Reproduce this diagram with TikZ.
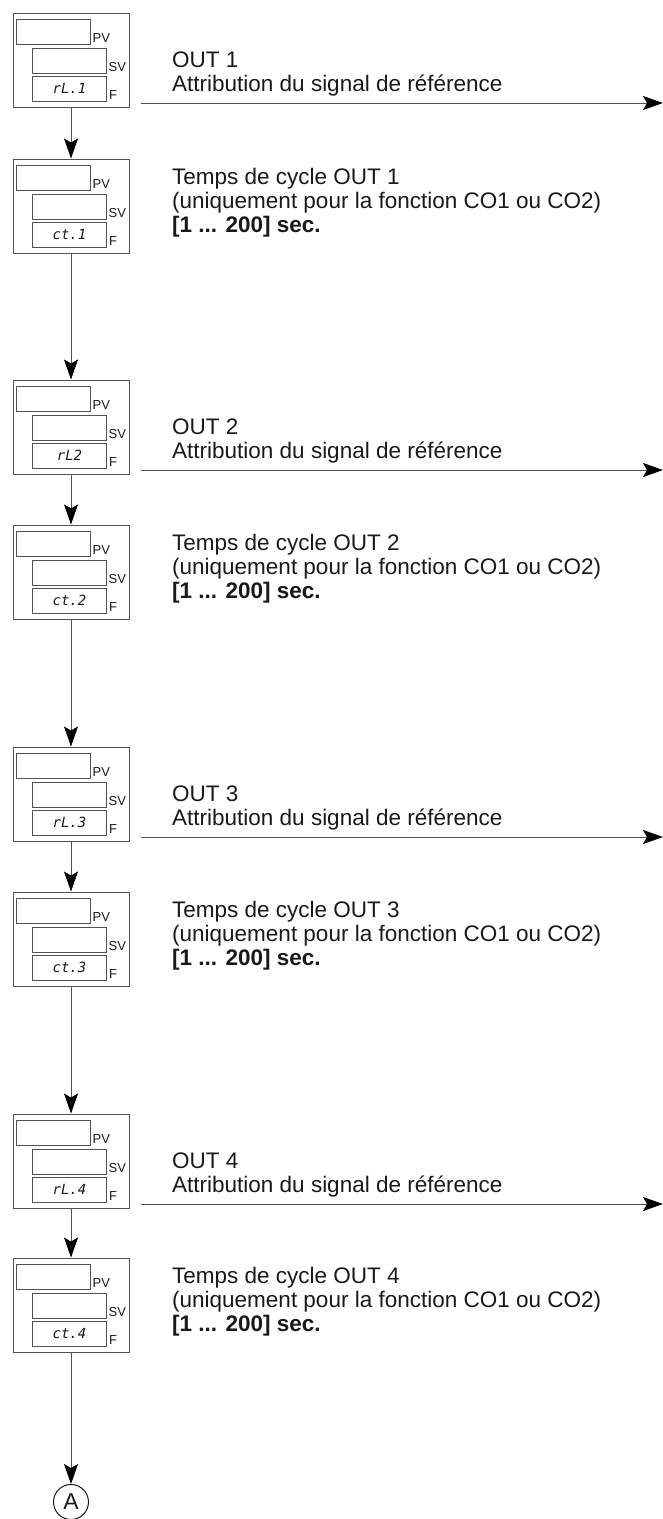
\documentclass[tikz,border=0pt]{standalone}
\usepackage{fontspec}
\setmainfont{Liberation Sans}
\newfontfamily\segfont{DejaVu Sans Mono}
\usetikzlibrary{arrows.meta,positioning}
\definecolor{framegray}{gray}{0.32}
\definecolor{inkgray}{gray}{0.1}

% one controller display: name, top edge, code in the F field
\newcommand\panel[3]{%
  \node[frame] (#1) at (71,#2+47) {};
  \node[cell] (#1pv) at (53,#2+18.5) {};
  \node[cell] (#1sv) at (69,#2+47.5) {};
  \node[cell, font=\segfont\itshape\fontsize{14}{14}\selectfont] (#1f) at (69.5,#2+75.5) {#3};
  \node[tag] (#1pvl) at (#1pv.south east) {PV};
  \node[tag] (#1svl) at (#1sv.south east) {SV};
  \node[tag] (#1fl) at (#1f.south east) {F};
}

\begin{document}
\begin{tikzpicture}[
  x={(1pt,0)}, y={(0,-1pt)},
  frame/.style={rectangle, draw=framegray, line width=1pt, inner sep=0,
                minimum width=116pt, minimum height=94pt},
  cell/.style={rectangle, draw=framegray, line width=0.9pt, inner sep=0,
               minimum width=74pt, minimum height=25pt, text=inkgray},
  tag/.style={anchor=base west, inner sep=0, xshift=2pt, yshift=1.5pt,
              font=\fontsize{13}{13}\selectfont, text=inkgray},
  txt/.style={anchor=base west, inner sep=0, font=\fontsize{22.5}{24}\selectfont, text=inkgray},
  bold/.style={txt, font=\fontsize{22.5}{24}\selectfont\bfseries},
  arr/.style={-{Stealth[length=20pt, width=14pt, inset=4pt, color=black, fill=black]},
              line width=1pt, draw=framegray},
  marker/.style={circle, draw=inkgray, line width=1pt, inner sep=0, minimum size=35pt,
                 font=\fontsize{23}{23}\selectfont, text=inkgray}
]
\useasboundingbox (0,0) rectangle (663,1519);

% Displays
\panel{d1}{13}{rL.1}
\panel{d2}{159}{ct.1}
\panel{d3}{380}{rL2}
\panel{d4}{525}{ct.2}
\panel{d5}{747}{rL.3}
\panel{d6}{892}{ct.3}
\panel{d7}{1114}{rL.4}
\panel{d8}{1258}{ct.4}

% Connecteur A
\node[marker] (A) at (71,1502) {A};

% OUT 1
\node[txt] (o1a) at (172,67) {OUT 1};
\node[txt] (o1b) at (172,91) {Attribution du signal de référence};
\node[txt] (c1a) at (172,184) {Temps de cycle OUT 1};
\node[txt] (c1b) at (172,208) {(uniquement pour la fonction CO1 ou CO2)};
\node[bold] (c1c) at (172,232) {[1 ... 200] sec.};

% OUT 2
\node[txt] (o2a) at (172,434) {OUT 2};
\node[txt] (o2b) at (172,458) {Attribution du signal de référence};
\node[txt] (c2a) at (172,550) {Temps de cycle OUT 2};
\node[txt] (c2b) at (172,574) {(uniquement pour la fonction CO1 ou CO2)};
\node[bold] (c2c) at (172,598) {[1 ... 200] sec.};

% OUT 3
\node[txt] (o3a) at (172,801) {OUT 3};
\node[txt] (o3b) at (172,825) {Attribution du signal de référence};
\node[txt] (c3a) at (172,917) {Temps de cycle OUT 3};
\node[txt] (c3b) at (172,941) {(uniquement pour la fonction CO1 ou CO2)};
\node[bold] (c3c) at (172,965) {[1 ... 200] sec.};

% OUT 4
\node[txt] (o4a) at (172,1168) {OUT 4};
\node[txt] (o4b) at (172,1192) {Attribution du signal de référence};
\node[txt] (c4a) at (172,1283) {Temps de cycle OUT 4};
\node[txt] (c4b) at (172,1307) {(uniquement pour la fonction CO1 ou CO2)};
\node[bold] (c4c) at (172,1331) {[1 ... 200] sec.};

% Sorties vers la droite
\coordinate (h1a) at (141,103);  \coordinate (h1b) at (663,103);
\coordinate (h2a) at (141,470);  \coordinate (h2b) at (663,470);
\coordinate (h3a) at (141,837);  \coordinate (h3b) at (663,837);
\coordinate (h4a) at (141,1204); \coordinate (h4b) at (663,1204);
\draw[arr] (h1a) -- (h1b);
\draw[arr] (h2a) -- (h2b);
\draw[arr] (h3a) -- (h3b);
\draw[arr] (h4a) -- (h4b);

% Enchainement vertical
\draw[arr] (d1.south) -- (d2.north);
\draw[arr] (d2.south) -- (d3.north);
\draw[arr] (d3.south) -- (d4.north);
\draw[arr] (d4.south) -- (d5.north);
\draw[arr] (d5.south) -- (d6.north);
\draw[arr] (d6.south) -- (d7.north);
\draw[arr] (d7.south) -- (d8.north);
\draw[arr] (d8.south) -- (A.north);
\end{tikzpicture}
\end{document}
